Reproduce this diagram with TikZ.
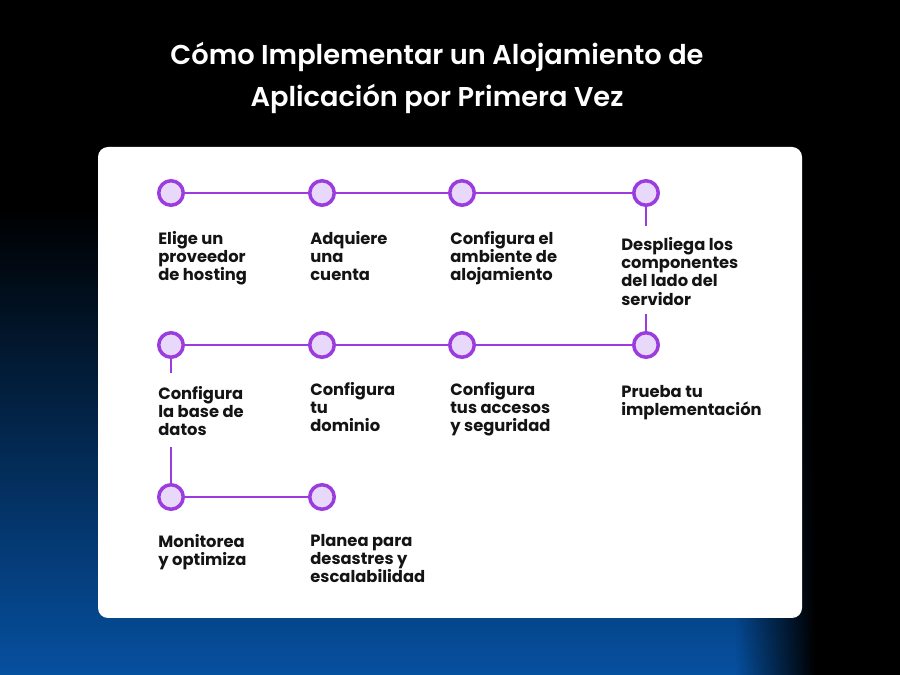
\documentclass[tikz,border=0pt]{standalone}
\usepackage{fontspec}
\setmainfont{Poppins}[BoldFont={* Bold}]
\newfontfamily\titlefont{Poppins SemiBold}
\usepackage{xcolor}
\usepackage{tikz}
\usetikzlibrary{fadings}
\definecolor{stepline}{RGB}{155,60,222}
\definecolor{stepfill}{RGB}{232,216,250}
\definecolor{bgblue}{RGB}{6,80,160}
\definecolor{bgnavy}{RGB}{4,34,82}
\definecolor{steptext}{RGB}{20,20,20}
\tikzfading[name=fadeblack, left color=transparent!100, right color=transparent!0]

\begin{document}
\begin{tikzpicture}[x=0.02cm, y=-0.02cm]
          % background
          \fill[black] (0,0) rectangle (900,675);
          \shade[top color=black, middle color=bgnavy, bottom color=bgblue] (0,210) rectangle (900,675);
          \fill[black, path fading=fadeblack] (735,210) rectangle (815,675);
          \fill[black] (814,210) rectangle (900,675);

          \fill[white, rounded corners=0.2cm] (98,147) rectangle (802,618);
          \node[anchor=north, inner sep=0pt, text=white, align=center, font=\fontsize{15.5}{23.8}\selectfont\titlefont] (title) at (437,42) {Cómo Implementar un Alojamiento de\\Aplicación por Primera Vez};

          \foreach \x\y [count=\xi from 1] in {171/193, 322/193, 462/193, 646/193, 171/345, 322/345, 462/345, 646/345, 171/497, 322/497}{%
            \node[circle, draw=stepline, line width=2pt, fill=stepfill, minimum size=0.49cm, inner sep=0pt] (c\xi) at (\x, \y) {};
          }
          \foreach \x\y\txt [count=\xi from 1] in {158/231/{Elige un\\proveedor\\de hosting}, 310/231/{Adquiere\\una\\cuenta}, 450/231/{Configura el\\ambiente de\\alojamiento}, 621/237/{Despliega los\\componentes\\del lado del\\servidor}, 158/386/{Configura\\la base de\\datos}, 310/382/{Configura\\tu\\dominio}, 450/382/{Configura\\tus accesos\\y seguridad}, 621/385/{Prueba tu\\implementación}, 158/534/{Monitorea\\y optimiza}, 310/534/{Planea para\\desastres y\\escalabilidad}}{%
            \node[anchor=north west, inner sep=0pt, align=left, text=steptext, font=\fontsize{9.3}{10.4}\selectfont\bfseries] (t\xi) at (\x, \y) {\txt};
          }

          \coordinate (s4) at (646,226);
          \coordinate (s8) at (646,314);
          \coordinate (s5) at (171,373);
          \coordinate (s9) at (171,447);

          \draw[stepline, line width=1.6pt] (c1) -- (c2) -- (c3) -- (c4) -- (s4);
          \draw[stepline, line width=1.6pt] (s8) -- (c8);
          \draw[stepline, line width=1.6pt] (c5) -- (c6) -- (c7) -- (c8);
          \draw[stepline, line width=1.6pt] (c5) -- (s5);
          \draw[stepline, line width=1.6pt] (s9) -- (c9) -- (c10);
        \end{tikzpicture}
\end{document}
